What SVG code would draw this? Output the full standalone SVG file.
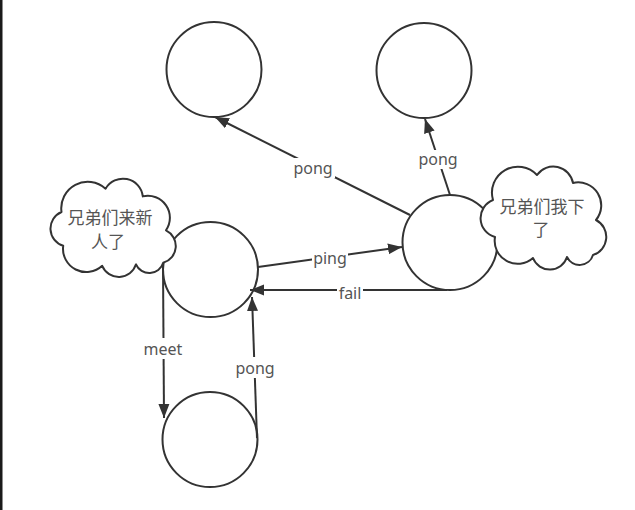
<svg xmlns="http://www.w3.org/2000/svg" width="635" height="510" viewBox="0 0 635 510">
<style>
.node{fill:#fff;stroke:#333;stroke-width:2}
.cloud{fill:#fff;stroke:#333;stroke-width:2;stroke-linejoin:round}
.edge{fill:none;stroke:#333;stroke-width:2;marker-end:url(#arr)}
.lbg{fill:#fff}
.lbl{font-family:"Noto Sans","Liberation Sans",sans-serif;font-size:16px;fill:#555;text-anchor:middle}
.ct{font-family:"Noto Sans CJK SC","Noto Sans",sans-serif;font-size:17px;fill:#555;text-anchor:middle}
</style>
<defs>
<marker id="arr" markerUnits="userSpaceOnUse" markerWidth="15" markerHeight="12" refX="14" refY="6" orient="auto">
<path d="M0,0.5 L14,6 L0,11.5 Z" fill="#333"/>
</marker>
</defs>
<rect x="0" y="0" width="635" height="510" fill="#fff"/>
<rect x="0" y="0" width="2.5" height="510" fill="#1a1a1a"/>

<g id="n-topleft"><circle class="node" cx="214" cy="69.5" r="47.5"/></g>
<g id="n-topright"><circle class="node" cx="424" cy="70.5" r="47.5"/></g>
<g id="n-midright"><circle class="node" cx="450" cy="242.5" r="47.5"/></g>
<g id="n-midleft"><circle class="node" cx="210.5" cy="269.5" r="47.5"/></g>
<g id="n-bottom"><circle class="node" cx="210" cy="439.5" r="47.5"/></g>

<g id="cloud-left">
<path class="cloud" d="M61.5,212 A26.5,26.5 0 0 1 105.6,188.7 A20,20 0 0 1 142.8,196.4 A22,22 0 0 1 166,230.3 A17.5,17.5 0 0 1 163.2,262.8 A14.5,14.5 0 0 1 136,264.3 A18,18 0 0 1 102.2,265.8 A23.3,23.3 0 0 1 63.2,245.8 A18,18 0 0 1 61.5,212 Z"/>
<text class="ct" x="110" y="224">兄弟们来新</text>
<text class="ct" x="108" y="248">人了</text>
</g>
<g id="cloud-right">
<path class="cloud" d="M493,200 A26,26 0 0 1 537,175 A20,20 0 0 1 573,183 A23,23 0 0 1 596,220 A19,19 0 0 1 593,255 A14,14 0 0 1 567,257 A18,18 0 0 1 533,258 A23,23 0 0 1 495,237 A19.5,19.5 0 0 1 493,200 Z"/>
<text class="ct" x="542" y="213">兄弟们我下</text>
<text class="ct" x="541" y="236">了</text>
</g>

<g id="connectors">
<path class="edge" d="M410,215 L215,117"/>
<path class="edge" d="M450,195 L425,119"/>
<path class="edge" d="M258,267 L402,247"/>
<path class="edge" d="M447,290 L250,290"/>
<path class="edge" d="M163,265 L164,418"/>
<path class="edge" d="M257,438 L252,297"/>
<rect class="lbg" x="292" y="158" width="43" height="20"/>
<text class="lbl" x="313" y="174">pong</text>
<rect class="lbg" x="419" y="150" width="38" height="19"/>
<text class="lbl" x="438" y="165">pong</text>
<rect class="lbg" x="312" y="250" width="36" height="19"/>
<text class="lbl" x="330" y="264">ping</text>
<rect class="lbg" x="337" y="283" width="26" height="18"/>
<text class="lbl" x="350" y="299">fail</text>
<rect class="lbg" x="143" y="338" width="40" height="21"/>
<text class="lbl" x="163" y="355">meet</text>
<rect class="lbg" x="236" y="357" width="38" height="21"/>
<text class="lbl" x="255" y="374">pong</text>
</g>
</svg>
